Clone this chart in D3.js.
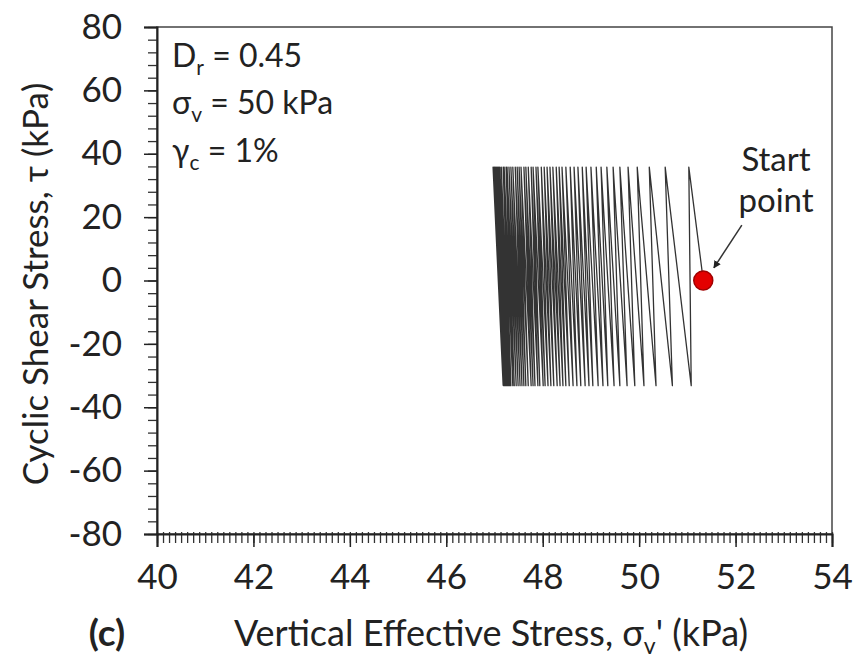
<!DOCTYPE html>
<html>
<head>
<meta charset="utf-8">
<script src="https://cdn.jsdelivr.net/npm/d3@7"></script>
<style>
  body { margin: 0; background: #fff; }
  svg { display: block; font-family: Lato, "Open Sans", sans-serif; }
</style>
</head>
<body>
<svg width="859" height="670"></svg>
<script>
// axis ticks
const xTicks = [40, 42, 44, 46, 48, 50, 52, 54];
const yTicks = [-80, -60, -40, -20, 0, 20, 40, 60, 80];

// peak shear stress of each cycle (kPa): top, bottom
const tauPeaks = [35.8, -33.2];

// start point of the test (sigma_v', tau)
const startPoint = [51.33, 0];

// sigma_v' at the top (tau max) of each cycle
const sigmaTop = [
  51.03, 50.54, 50.21, 49.96, 49.77, 49.60, 49.46, 49.33, 49.21, 49.11,
  49.00, 48.90, 48.82, 48.73, 48.65, 48.57, 48.48, 48.40, 48.34, 48.28,
  48.21, 48.15, 48.09, 48.03, 47.97, 47.90, 47.86, 47.80, 47.76, 47.70,
  47.65, 47.61, 47.55, 47.51, 47.47, 47.43, 47.38, 47.34, 47.30, 47.26,
  47.24, 47.20, 47.18, 47.14, 47.11, 47.09, 47.07, 47.05, 47.03, 47.01,
  46.99, 46.97
];

// sigma_v' at the bottom (tau min) of each cycle
const sigmaBottom = [
  51.08, 50.69, 50.35, 50.10, 49.91, 49.75, 49.60, 49.48, 49.35, 49.25,
  49.15, 49.04, 48.96, 48.88, 48.79, 48.71, 48.63, 48.55, 48.48, 48.42,
  48.36, 48.30, 48.23, 48.17, 48.11, 48.05, 48.01, 47.94, 47.90, 47.84,
  47.80, 47.76, 47.70, 47.65, 47.61, 47.57, 47.53, 47.49, 47.45, 47.41,
  47.38, 47.34, 47.32, 47.30, 47.28, 47.26, 47.24, 47.22, 47.21, 47.20,
  47.19, 47.18
];

// arrow from the "Start point" label to the dot
const arrowFrom = [52.13, 17.5];
const arrowTo = [51.55, 4];

const svg = d3.select("svg");
const plotLeft = 157, plotRight = 832, plotTop = 27, plotBottom = 534;

const x = d3.scaleLinear().domain([40, 54]).range([plotLeft, plotRight]);
const y = d3.scaleLinear().domain([-80, 80]).range([plotBottom, plotTop]);

const fmt = d => String(d);  // plain hyphen for negatives

// frame
svg.append("rect")
  .attr("x", plotLeft).attr("y", plotTop)
  .attr("width", plotRight - plotLeft).attr("height", plotBottom - plotTop)
  .attr("fill", "none").attr("stroke", "#444").attr("stroke-width", 1.5);

// minor ticks
const xMinor = d3.range(40, 54.001, 0.125);
const yMinor = d3.range(-80, 80.001, 4);

svg.append("g")
  .attr("transform", `translate(0,${plotBottom})`)
  .call(d3.axisBottom(x).tickValues(xMinor).tickSize(9).tickFormat(""))
  .call(g => g.select(".domain").remove())
  .call(g => g.selectAll("line").attr("y1", -2).attr("stroke", "#333").attr("stroke-width", 1.3));

svg.append("g")
  .attr("transform", `translate(${plotLeft},0)`)
  .call(d3.axisLeft(y).tickValues(yMinor).tickSize(9).tickFormat(""))
  .call(g => g.select(".domain").remove())
  .call(g => g.selectAll("line").attr("stroke", "#333").attr("stroke-width", 1.3));

// major axes
const xAxis = svg.append("g")
  .attr("transform", `translate(0,${plotBottom})`)
  .call(d3.axisBottom(x).tickValues(xTicks).tickSize(13).tickPadding(17).tickFormat(fmt));
xAxis.select(".domain").attr("stroke", "#222").attr("stroke-width", 2);
xAxis.selectAll("line").attr("stroke", "#222").attr("stroke-width", 1.5);
xAxis.selectAll("text").attr("font-size", 35).attr("fill", "#222").attr("font-family", "Lato");

const yAxis = svg.append("g")
  .attr("transform", `translate(${plotLeft},0)`)
  .call(d3.axisLeft(y).tickValues(yTicks).tickSize(13).tickPadding(22).tickFormat(fmt));
yAxis.select(".domain").attr("stroke", "#222").attr("stroke-width", 2);
yAxis.selectAll("line").attr("stroke", "#222").attr("stroke-width", 1.5);
yAxis.selectAll("text").attr("font-size", 35).attr("fill", "#222").attr("font-family", "Lato");

// stress path: start -> top -> bottom -> top ...
const path = [startPoint];
sigmaTop.forEach((s, i) => {
  path.push([s, tauPeaks[0]]);
  path.push([sigmaBottom[i], tauPeaks[1]]);
});

svg.append("path")
  .datum(path)
  .attr("fill", "none")
  .attr("stroke", "#333")
  .attr("stroke-width", 1.3)
  .attr("stroke-linejoin", "round")
  .attr("d", d3.line().x(d => x(d[0])).y(d => y(d[1])));

// start point marker
svg.append("circle")
  .attr("cx", x(startPoint[0])).attr("cy", y(startPoint[1]))
  .attr("r", 9.5)
  .attr("fill", "#e30000").attr("stroke", "#a00000").attr("stroke-width", 1.5);

// arrow
svg.append("defs").append("marker")
  .attr("id", "head")
  .attr("viewBox", "0 0 10 10").attr("refX", 9).attr("refY", 5)
  .attr("markerWidth", 5).attr("markerHeight", 5)
  .attr("orient", "auto")
  .append("path").attr("d", "M0,0L10,5L0,10z").attr("fill", "#222");

svg.append("line")
  .attr("x1", x(arrowFrom[0])).attr("y1", y(arrowFrom[1]))
  .attr("x2", x(arrowTo[0])).attr("y2", y(arrowTo[1]))
  .attr("stroke", "#333").attr("stroke-width", 1.5)
  .attr("marker-end", "url(#head)");

const startLabel = svg.append("text")
  .attr("font-size", 33).attr("fill", "#222").attr("text-anchor", "middle");
startLabel.append("tspan").attr("x", 776).attr("y", 171).text("Start");
startLabel.append("tspan").attr("x", 776).attr("y", 212).text("point");

// test conditions
const cond = svg.append("g").attr("font-size", 32).attr("fill", "#222");
const t1 = cond.append("text").attr("x", 172).attr("y", 67);
t1.append("tspan").text("D");
t1.append("tspan").attr("font-size", 21).attr("dy", 8).text("r");
t1.append("tspan").attr("dy", -8).text(" = 0.45");

const t2 = cond.append("text").attr("x", 172).attr("y", 114);
t2.append("tspan").text("σ");
t2.append("tspan").attr("font-size", 21).attr("dy", 8).text("v");
t2.append("tspan").attr("dy", -8).text(" = 50 kPa");

const t3 = cond.append("text").attr("x", 172).attr("y", 162);
t3.append("tspan").text("γ");
t3.append("tspan").attr("font-size", 21).attr("dy", 8).text("c");
t3.append("tspan").attr("dy", -8).text(" = 1%");

// axis titles
const xt = svg.append("text")
  .attr("x", 491).attr("y", 646)
  .attr("text-anchor", "middle").attr("font-size", 36).attr("fill", "#222");
xt.append("tspan").text("Vertical Effective Stress, σ");
xt.append("tspan").attr("font-size", 23).attr("dy", 8).text("v");
xt.append("tspan").attr("dy", -8).text("' (kPa)");

svg.append("text")
  .attr("transform", "translate(48,284) rotate(-90)")
  .attr("text-anchor", "middle").attr("font-size", 35).attr("fill", "#222")
  .text("Cyclic Shear Stress, τ (kPa)");

svg.append("text")
  .attr("x", 107).attr("y", 646)
  .attr("text-anchor", "middle").attr("font-size", 37).attr("font-weight", "bold").attr("fill", "#222")
  .text("(c)");
</script>
</body>
</html>
